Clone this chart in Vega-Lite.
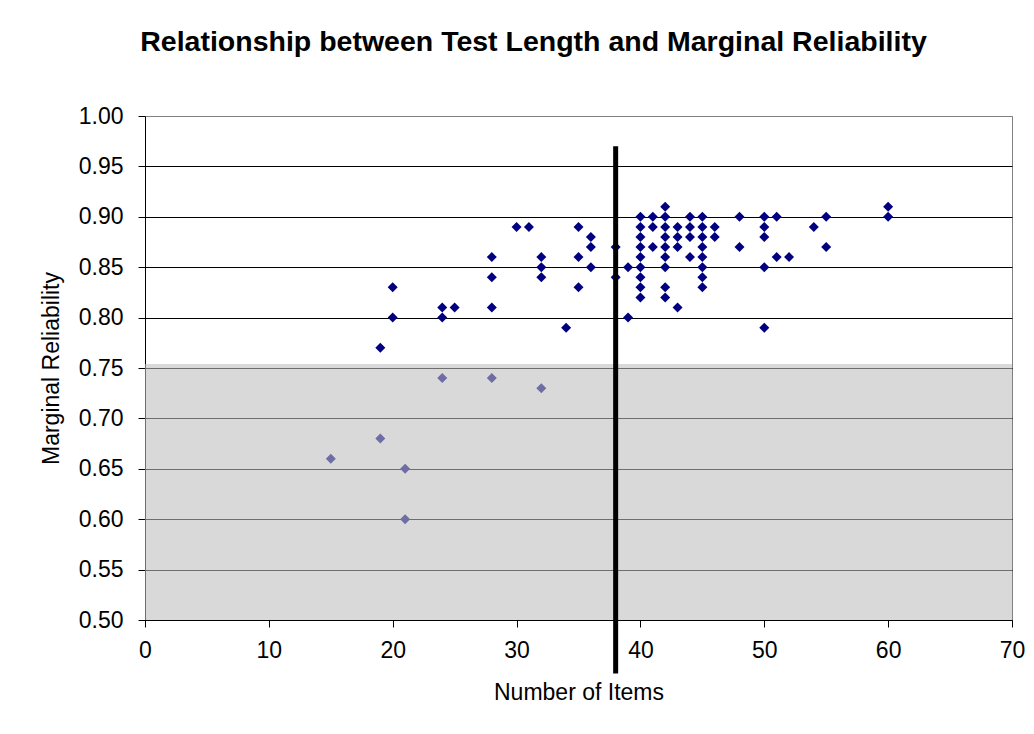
{
  "$schema": "https://vega.github.io/schema/vega-lite/v6.json",
  "width": 867,
  "height": 504,
  "autosize": {"type": "none"},
  "padding": {"left": 145, "top": 116, "right": 22, "bottom": 114},
  "background": "white",
  "title": {
    "text": "Relationship between Test Length and Marginal Reliability",
    "font": "Liberation Sans",
    "fontSize": 28.5,
    "fontWeight": "bold",
    "color": "black",
    "anchor": "middle",
    "baseline": "alphabetic",
    "dx": -45,
    "offset": 26
  },
  "config": {
    "view": {"stroke": "#808080", "strokeWidth": 1},
    "font": "Liberation Sans"
  },
  "layer": [
    {
      "data": {
        "values": [
          {"items": 19, "rel": 0.77}, {"items": 20, "rel": 0.83}, {"items": 20, "rel": 0.80},
          {"items": 24, "rel": 0.81}, {"items": 25, "rel": 0.81}, {"items": 24, "rel": 0.80},
          {"items": 28, "rel": 0.86}, {"items": 28, "rel": 0.84}, {"items": 28, "rel": 0.81},
          {"items": 30, "rel": 0.89}, {"items": 31, "rel": 0.89},
          {"items": 32, "rel": 0.86}, {"items": 32, "rel": 0.85}, {"items": 32, "rel": 0.84},
          {"items": 34, "rel": 0.79},
          {"items": 35, "rel": 0.89}, {"items": 35, "rel": 0.86}, {"items": 35, "rel": 0.83},
          {"items": 36, "rel": 0.88}, {"items": 36, "rel": 0.87}, {"items": 36, "rel": 0.85},
          {"items": 38, "rel": 0.87}, {"items": 38, "rel": 0.84},
          {"items": 39, "rel": 0.85}, {"items": 39, "rel": 0.80},
          {"items": 40, "rel": 0.90}, {"items": 40, "rel": 0.89}, {"items": 40, "rel": 0.88},
          {"items": 40, "rel": 0.87}, {"items": 40, "rel": 0.86}, {"items": 40, "rel": 0.85},
          {"items": 40, "rel": 0.84}, {"items": 40, "rel": 0.83}, {"items": 40, "rel": 0.82},
          {"items": 41, "rel": 0.90}, {"items": 41, "rel": 0.89}, {"items": 41, "rel": 0.87},
          {"items": 42, "rel": 0.91}, {"items": 42, "rel": 0.90}, {"items": 42, "rel": 0.89},
          {"items": 42, "rel": 0.88}, {"items": 42, "rel": 0.87}, {"items": 42, "rel": 0.86},
          {"items": 42, "rel": 0.85}, {"items": 42, "rel": 0.83}, {"items": 42, "rel": 0.82},
          {"items": 43, "rel": 0.89}, {"items": 43, "rel": 0.88}, {"items": 43, "rel": 0.87}, {"items": 43, "rel": 0.81},
          {"items": 44, "rel": 0.90}, {"items": 44, "rel": 0.89}, {"items": 44, "rel": 0.88}, {"items": 44, "rel": 0.86},
          {"items": 45, "rel": 0.90}, {"items": 45, "rel": 0.89}, {"items": 45, "rel": 0.88}, {"items": 45, "rel": 0.87},
          {"items": 45, "rel": 0.86}, {"items": 45, "rel": 0.85}, {"items": 45, "rel": 0.84}, {"items": 45, "rel": 0.83},
          {"items": 46, "rel": 0.89}, {"items": 46, "rel": 0.88},
          {"items": 48, "rel": 0.90}, {"items": 48, "rel": 0.87},
          {"items": 50, "rel": 0.90}, {"items": 50, "rel": 0.89}, {"items": 50, "rel": 0.88},
          {"items": 50, "rel": 0.85}, {"items": 50, "rel": 0.79},
          {"items": 51, "rel": 0.90}, {"items": 51, "rel": 0.86},
          {"items": 52, "rel": 0.86},
          {"items": 54, "rel": 0.89},
          {"items": 55, "rel": 0.90}, {"items": 55, "rel": 0.87},
          {"items": 60, "rel": 0.91}, {"items": 60, "rel": 0.90},
          {"items": 24, "rel": 0.74}, {"items": 28, "rel": 0.74}, {"items": 32, "rel": 0.73},
          {"items": 19, "rel": 0.68}, {"items": 15, "rel": 0.66}, {"items": 21, "rel": 0.65},
          {"items": 21, "rel": 0.60}
        ]
      },
      "mark": {"type": "point", "shape": "diamond", "filled": true, "size": 100, "color": "#000080", "opacity": 1, "strokeWidth": 0},
      "encoding": {
        "x": {
          "field": "items", "type": "quantitative", "title": "Number of Items",
          "scale": {"domain": [0, 70], "nice": false, "zero": false},
          "axis": {
            "values": [0, 10, 20, 30, 40, 50, 60, 70], "format": "d", "grid": false,
            "labelFontSize": 23, "labelColor": "black", "labelFont": "Liberation Sans", "labelFlush": false,
            "tickSize": 7, "tickColor": "black", "domainColor": "black", "labelPadding": 12,
            "titleFontSize": 23, "titleFontWeight": "normal", "titleColor": "black", "titleFont": "Liberation Sans",
            "titleX": 433.5, "titleY": 79, "titleAlign": "center", "titleBaseline": "alphabetic"
          }
        },
        "y": {
          "field": "rel", "type": "quantitative", "title": "Marginal Reliability",
          "scale": {"domain": [0.5, 1.0], "nice": false, "zero": false},
          "axis": {
            "values": [0.5, 0.55, 0.6, 0.65, 0.7, 0.75, 0.8, 0.85, 0.9, 0.95, 1.0], "format": ".2f",
            "grid": true,
            "gridColor": {"condition": {"test": "datum.value >= 0.999", "value": "#808080"}, "value": "black"},
            "gridOpacity": 1, "gridWidth": 1,
            "labelFontSize": 23, "labelColor": "black", "labelFont": "Liberation Sans", "labelFlush": false,
            "tickSize": 7, "tickColor": "black", "domainColor": "black", "labelPadding": 15,
            "titleFontSize": 23, "titleFontWeight": "normal", "titleColor": "black", "titleFont": "Liberation Sans",
            "titleX": -87, "titleY": 252, "titleAngle": 270, "titleAlign": "center", "titleBaseline": "alphabetic"
          }
        }
      }
    },
    {
      "data": {"values": [{"items": 0, "items2": 70, "rel": 0.5, "rel2": 0.754}]},
      "mark": {"type": "rect", "fill": "#bebebe", "opacity": 0.58},
      "encoding": {
        "x": {"field": "items", "type": "quantitative", "title": "Number of Items"},
        "x2": {"field": "items2"},
        "y": {"field": "rel", "type": "quantitative", "title": "Marginal Reliability"},
        "y2": {"field": "rel2"}
      }
    },
    {
      "data": {"values": [{"items": 38, "rel": 0.97, "rel2": 0.447}]},
      "mark": {"type": "rule", "color": "black", "strokeWidth": 5},
      "encoding": {
        "x": {"field": "items", "type": "quantitative", "title": "Number of Items"},
        "y": {"field": "rel", "type": "quantitative", "title": "Marginal Reliability"},
        "y2": {"field": "rel2"}
      }
    }
  ]
}
